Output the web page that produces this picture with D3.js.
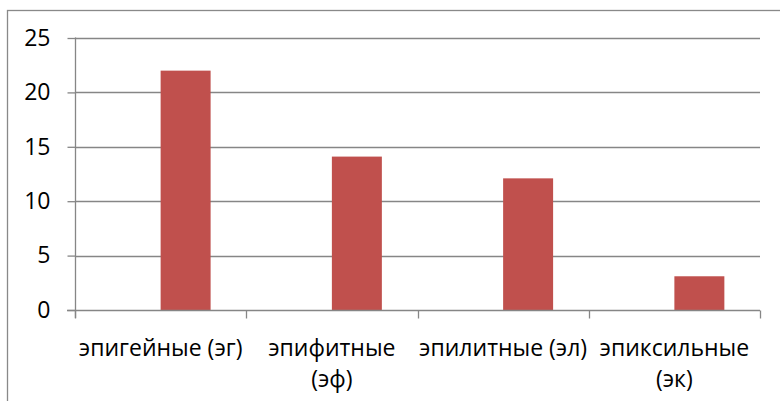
<!doctype html>
<html lang="ru">
<head>
    <meta charset="utf-8">
    <title>Bar chart</title>
    <style type="text/css">
        body { margin: 0; background: #fff; }
        svg text { font-family: "Open Sans", sans-serif; fill: #000; }
    </style>
</head>
<body>
    <script src="https://cdnjs.cloudflare.com/ajax/libs/d3/7.8.5/d3.min.js"></script>
    <div id="chart"></div>
    <script>
        // data
        var categories = ["эпигейные (эг)", "эпифитные (эф)", "эпилитные (эл)", "эпиксильные (эк)"]
        var labelLines = [["эпигейные (эг)"], ["эпифитные", "(эф)"], ["эпилитные (эл)"], ["эпиксильные", "(эк)"]]
        var values = [22, 14.1, 12.1, 3.1]
        var yTicks = [0, 5, 10, 15, 20, 25]

        var width = 780
        var height = 401
        var plot = { left: 75, right: 760, top: 38, bottom: 310 }

        var svg = d3.select("#chart")
            .append("svg")
            .attr("width", width)
            .attr("height", height)

        // outer chart frame
        svg.append("rect")
            .attr("x", 7.5)
            .attr("y", 10.5)
            .attr("width", 790)
            .attr("height", 410)
            .attr("fill", "none")
            .attr("stroke", "#898989")
            .attr("stroke-width", 1.3)

        var x = d3.scaleBand()
            .domain(categories)
            .range([plot.left, plot.right])
            .paddingInner(0)
            .paddingOuter(0)

        // two slots per category (first slot is empty in the original)
        var xSlot = d3.scaleBand()
            .domain([0, 1])
            .range([0, x.bandwidth()])
            .paddingInner(0)
            .paddingOuter(0.713)

        var y = d3.scaleLinear()
            .domain([0, 25])
            .range([plot.bottom, plot.top])

        // gridlines
        svg.append("g")
            .selectAll("line")
            .data(yTicks.filter(function (d) { return d > 0 }))
            .enter()
            .append("line")
            .attr("x1", plot.left)
            .attr("x2", plot.right)
            .attr("y1", function (d) { return Math.round(y(d)) + 0.5 })
            .attr("y2", function (d) { return Math.round(y(d)) + 0.5 })
            .attr("stroke", "#868686")
            .attr("stroke-width", 1.3)

        // bars
        svg.append("g")
            .selectAll("rect")
            .data(values)
            .enter()
            .append("rect")
            .attr("x", function (d, i) { return x(categories[i]) + xSlot(1) })
            .attr("width", xSlot.bandwidth())
            .attr("y", function (d) { return y(d) })
            .attr("height", function (d) { return y(0) - y(d) })
            .attr("fill", "#c0504d")

        // y axis
        var yAxis = svg.append("g")
            .attr("transform", "translate(" + (plot.left + 0.5) + ",0)")
            .call(d3.axisLeft(y).tickValues(yTicks).tickSize(8).tickPadding(17).tickFormat(d3.format("d")))
        yAxis.selectAll("path, line").attr("stroke", "#868686").attr("stroke-width", 1.3)
        yAxis.select(".domain").attr("d", "M0," + (plot.top - 0.5) + "V" + (plot.bottom + 8))
        yAxis.selectAll("text").attr("font-size", 23).attr("font-family", "Open Sans").attr("fill", "#000")

        // x axis
        var xAxis = svg.append("g")
            .attr("transform", "translate(0," + (Math.round(y(0)) + 0.5) + ")")
        xAxis.append("line")
            .attr("x1", plot.left - 8)
            .attr("x2", plot.right)
            .attr("stroke", "#868686")
            .attr("stroke-width", 1.3)
        xAxis.selectAll(".tick")
            .data(categories.concat([null]))
            .enter()
            .append("line")
            .attr("x1", function (d, i) { return Math.round(plot.left + i * x.step()) + 0.5 })
            .attr("x2", function (d, i) { return Math.round(plot.left + i * x.step()) + 0.5 })
            .attr("y1", 0)
            .attr("y2", 8)
            .attr("stroke", "#868686")
            .attr("stroke-width", 1.3)

        var labels = xAxis.selectAll(".lbl")
            .data(labelLines)
            .enter()
            .append("text")
            .attr("class", "lbl")
            .attr("text-anchor", "middle")
            .attr("font-size", 23)
            .attr("transform", function (d, i) { return "translate(" + (x(categories[i]) + x.bandwidth() / 2) + ",0)" })
        labels.selectAll("tspan")
            .data(function (d) { return d })
            .enter()
            .append("tspan")
            .attr("x", 0)
            .attr("y", function (d, i) { return 45 + i * 31 })
            .text(function (d) { return d })
    </script>
</body>
</html>
